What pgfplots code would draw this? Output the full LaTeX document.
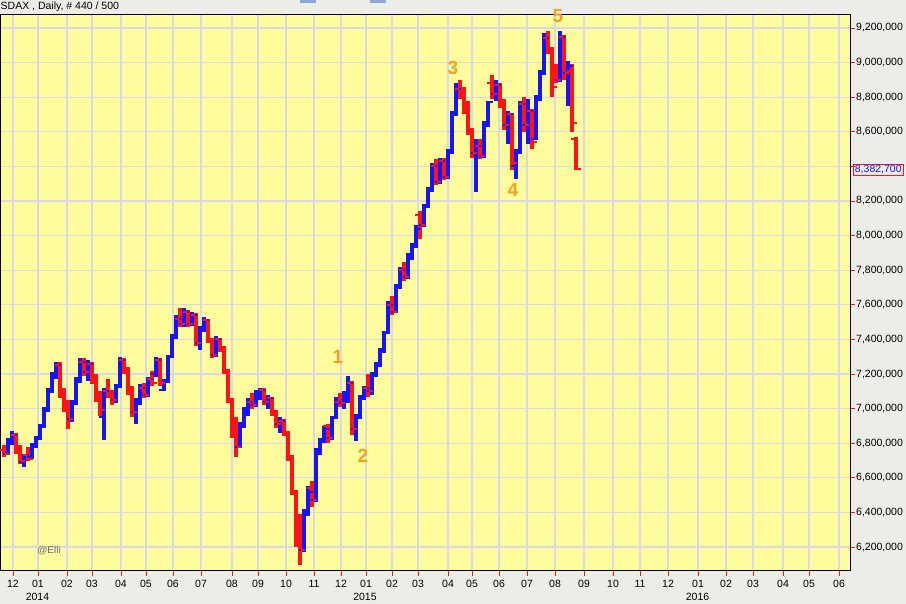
\documentclass[border=0pt]{standalone}
\usepackage{pgfplots}
\pgfplotsset{compat=1.18}
\usepackage{pgfplotstable}
\usepackage{fontspec}
\setmainfont{Liberation Sans}
\definecolor{chartbg}{RGB}{255,252,158}
\definecolor{panel}{RGB}{236,236,232}
\definecolor{gridc}{RGB}{216,216,232}
\definecolor{upc}{RGB}{20,20,255}
\definecolor{dnc}{RGB}{255,20,20}
\definecolor{wave}{RGB}{247,160,30}
\definecolor{tabc}{RGB}{140,168,216}

\pgfplotstableread{
x o h l c
4 6760000 6790000 6720000 6740000
8 6740000 6830000 6730000 6810000
12 6810000 6870000 6790000 6850000
16 6850000 6860000 6740000 6760000
20 6760000 6790000 6680000 6700000
24 6690000 6740000 6665000 6730000
28 6730000 6780000 6700000 6710000
32 6720000 6800000 6710000 6790000
36 6790000 6840000 6770000 6830000
40 6830000 6910000 6820000 6900000
44 6900000 7010000 6890000 6990000
48 6990000 7120000 6980000 7100000
52 7100000 7210000 7090000 7190000
56 7190000 7270000 7170000 7250000
60 7250000 7270000 7060000 7080000
64 7080000 7120000 6980000 7010000
68 7010000 7050000 6880000 6940000
72 6940000 7050000 6920000 7030000
76 7030000 7180000 7020000 7160000
80 7160000 7290000 7150000 7270000
84 7270000 7290000 7190000 7210000
88 7210000 7280000 7160000 7260000
92 7260000 7270000 7140000 7160000
96 7160000 7200000 7040000 7060000
100 7060000 7100000 6960000 6990000
104 6950000 7120000 6820000 7100000
108 7100000 7170000 7060000 7080000
112 7080000 7110000 7020000 7050000
116 7050000 7140000 7030000 7130000
120 7130000 7300000 7120000 7280000
124 7280000 7290000 7200000 7220000
128 7220000 7240000 7080000 7110000
132 7110000 7130000 6950000 6980000
136 6980000 7060000 6910000 7040000
140 7040000 7140000 7020000 7120000
144 7120000 7150000 7060000 7080000
148 7080000 7180000 7070000 7170000
152 7170000 7220000 7130000 7150000
156 7200000 7300000 7180000 7280000
160 7280000 7290000 7130000 7150000
164 7110000 7170000 7100000 7160000
168 7160000 7310000 7150000 7300000
172 7300000 7430000 7290000 7420000
176 7420000 7540000 7400000 7520000
180 7520000 7580000 7470000 7490000
184 7490000 7580000 7470000 7560000
188 7560000 7570000 7470000 7490000
192 7490000 7560000 7480000 7540000
196 7540000 7550000 7360000 7380000
200 7380000 7480000 7340000 7450000
204 7450000 7530000 7440000 7510000
208 7510000 7520000 7380000 7400000
212 7400000 7410000 7290000 7310000
216 7310000 7420000 7300000 7400000
220 7400000 7410000 7330000 7350000
224 7350000 7360000 7200000 7220000
228 7220000 7230000 7030000 7050000
232 7050000 7060000 6830000 6870000
236 6900000 6950000 6720000 6780000
240 6780000 6920000 6770000 6900000
244 6900000 7010000 6890000 6990000
248 6990000 7060000 6960000 7040000
252 7040000 7090000 7000000 7020000
256 7020000 7110000 7010000 7090000
260 7090000 7120000 7050000 7110000
264 7110000 7120000 7020000 7040000
268 7040000 7080000 7000000 7060000
272 7060000 7070000 6960000 6980000
276 6980000 6990000 6890000 6910000
280 6910000 6950000 6860000 6930000
284 6930000 6940000 6840000 6860000
288 6860000 6870000 6700000 6720000
292 6720000 6730000 6500000 6520000
296 6520000 6530000 6200000 6260000
300 6300000 6390000 6096000 6180000
304 6180000 6420000 6170000 6390000
308 6390000 6550000 6380000 6520000
312 6540000 6580000 6430000 6470000
316 6470000 6770000 6460000 6750000
320 6750000 6830000 6730000 6810000
324 6810000 6900000 6800000 6880000
328 6900000 6910000 6800000 6830000
332 6830000 6960000 6820000 6950000
336 6950000 7070000 6940000 7040000
340 7040000 7090000 7010000 7030000
344 7030000 7100000 7000000 7080000
348 7060000 7190000 7030000 7150000
352 7150000 7160000 6850000 6880000
356 6880000 6970000 6810000 6950000
360 6950000 7080000 6940000 7060000
364 7060000 7130000 7050000 7120000
368 7120000 7200000 7070000 7100000
372 7100000 7210000 7080000 7190000
376 7190000 7270000 7180000 7260000
380 7260000 7350000 7240000 7330000
384 7330000 7450000 7320000 7440000
388 7440000 7620000 7430000 7600000
392 7600000 7650000 7540000 7560000
396 7560000 7720000 7550000 7700000
400 7700000 7820000 7690000 7800000
404 7800000 7850000 7740000 7760000
408 7760000 7900000 7750000 7880000
412 7880000 7960000 7860000 7940000
416 7940000 8060000 7930000 8040000
420 8120000 8140000 7980000 8060000
424 8060000 8180000 8050000 8170000
428 8170000 8280000 8160000 8260000
432 8260000 8420000 8250000 8400000
436 8400000 8440000 8290000 8310000
440 8310000 8450000 8300000 8430000
444 8430000 8450000 8320000 8340000
448 8340000 8500000 8330000 8480000
452 8480000 8720000 8470000 8700000
456 8700000 8880000 8690000 8850000
460 8850000 8900000 8790000 8810000
464 8810000 8860000 8700000 8720000
468 8720000 8780000 8580000 8600000
472 8600000 8620000 8450000 8480000
476 8480000 8560000 8250000 8520000
480 8520000 8560000 8440000 8460000
484 8460000 8660000 8450000 8640000
488 8640000 8780000 8630000 8770000
492 8880000 8930000 8790000 8820000
496 8820000 8900000 8780000 8870000
500 8870000 8880000 8740000 8760000
504 8760000 8790000 8610000 8640000
508 8640000 8720000 8530000 8700000
512 8700000 8710000 8380000 8420000
516 8400000 8500000 8330000 8480000
520 8480000 8780000 8470000 8760000
524 8760000 8800000 8600000 8640000
528 8640000 8790000 8530000 8720000
532 8720000 8730000 8500000 8540000
536 8560000 8810000 8550000 8790000
540 8790000 8960000 8780000 8940000
544 8940000 9170000 8930000 9140000
548 9140000 9180000 9050000 9080000
552 9080000 9090000 8800000 8860000
556 8950000 8990000 8880000 8900000
560 8900000 9180000 8890000 9150000
564 9150000 9160000 8900000 8940000
568 8940000 9010000 8750000 8980000
572 8950000 8990000 8600000 8650000
576 8560000 8570000 8380000 8382700
}\ohlc

\begin{document}
\begin{tikzpicture}
\fill[panel] (0,0) rectangle (906pt,604pt);
\useasboundingbox (0,0) rectangle (906pt,604pt);
\fill[tabc] (300pt,601pt) rectangle (316pt,604pt);
\fill[tabc] (370pt,601pt) rectangle (386pt,604pt);
\begin{axis}[
  at={(0pt,33pt)}, anchor=south west,
  scale only axis, width=850pt, height=556pt,
  xmin=0, xmax=850, ymin=6061460, ymax=9275140,
  axis background/.style={fill=chartbg},
  axis line style={black, line width=1pt},
  grid=major, major grid style={gridc, line width=1.2pt},
  tick align=outside, major tick length=5pt,
  tick style={dnc, line width=0.8pt},
  xtick pos=bottom, ytick pos=right, yticklabel pos=right,
  xtick={13,38,67,92,121,146,173,201,232,258,286,314,341,366,392,418,448,472,499,527,555,584,613,640,668,698,726,753,783,809,839},
  xticklabels={12,01,02,03,04,05,06,07,08,09,10,11,12,01,02,03,04,05,06,07,08,09,10,11,12,01,02,03,04,05,06},
  ytick={6200000,6400000,6600000,6800000,7000000,7200000,7400000,7600000,7800000,8000000,8200000,8400000,8600000,8800000,9000000,9200000},
  yticklabels={{6,200,000},{6,400,000},{6,600,000},{6,800,000},{7,000,000},{7,200,000},{7,400,000},{7,600,000},{7,800,000},{8,000,000},{8,200,000},{},{8,600,000},{8,800,000},{9,000,000},{9,200,000}},
  scaled y ticks=false,
  tick label style={font=\fontsize{10.5}{12}\selectfont, text=black},
  yticklabel style={anchor=west, inner sep=0pt, xshift=1pt},
  xticklabel style={anchor=center, inner sep=0pt, yshift=-8pt},
  clip=false,
]
\addplot[upc, line width=3.2pt, mark=none, quiver={u=0, v=\thisrow{h}-\thisrow{l}}]
  table[x expr={\thisrow{c}>=\thisrow{o} ? \thisrow{x} : nan}, y=l] {\ohlc};
\addplot[upc, only marks, mark=-, mark size=2pt, mark options={line width=2pt}]
  table[x expr={\thisrow{c}>=\thisrow{o} ? \thisrow{x}-2.6 : nan}, y=o] {\ohlc};
\addplot[upc, only marks, mark=-, mark size=2pt, mark options={line width=2pt}]
  table[x expr={\thisrow{c}>=\thisrow{o} ? \thisrow{x}+2.6 : nan}, y=c] {\ohlc};
\addplot[dnc, line width=3.2pt, mark=none, quiver={u=0, v=\thisrow{h}-\thisrow{l}}]
  table[x expr={\thisrow{c}<\thisrow{o} ? \thisrow{x} : nan}, y=l] {\ohlc};
\addplot[dnc, only marks, mark=-, mark size=2pt, mark options={line width=2pt}]
  table[x expr={\thisrow{c}<\thisrow{o} ? \thisrow{x}-2.6 : nan}, y=o] {\ohlc};
\addplot[dnc, only marks, mark=-, mark size=2pt, mark options={line width=2pt}]
  table[x expr={\thisrow{c}<\thisrow{o} ? \thisrow{x}+2.6 : nan}, y=c] {\ohlc};
\end{axis}
\node[anchor=west, inner sep=0pt, font=\fontsize{10.5}{12}\selectfont] at (0.5pt,597pt) {SDAX , Daily, \# 440 / 500};
\node[font=\fontsize{10.5}{12}\selectfont] at (37.5pt,7pt) {2014};
\node[font=\fontsize{10.5}{12}\selectfont] at (365pt,7pt) {2015};
\node[font=\fontsize{10.5}{12}\selectfont] at (697.5pt,7pt) {2016};
\node[anchor=west, draw=dnc, line width=0.8pt, text=upc, inner xsep=1.5pt, inner ysep=1pt, font=\fontsize{10.5}{12}\selectfont] at (853pt,434pt) {8,382,700};
\node[text=wave, font=\bfseries\fontsize{19}{22}\selectfont] at (338pt,247pt) {1};
\node[text=wave, font=\bfseries\fontsize{19}{22}\selectfont] at (363pt,148pt) {2};
\node[text=wave, font=\bfseries\fontsize{19}{22}\selectfont] at (453pt,536pt) {3};
\node[text=wave, font=\bfseries\fontsize{19}{22}\selectfont] at (513pt,414pt) {4};
\node[text=wave, font=\bfseries\fontsize{19}{22}\selectfont] at (558pt,588pt) {5};
\node[text={rgb,255:red,110;green,110;blue,110}, font=\fontsize{10}{12}\selectfont] at (49pt,53pt) {@Elli};
\end{tikzpicture}
\end{document}
